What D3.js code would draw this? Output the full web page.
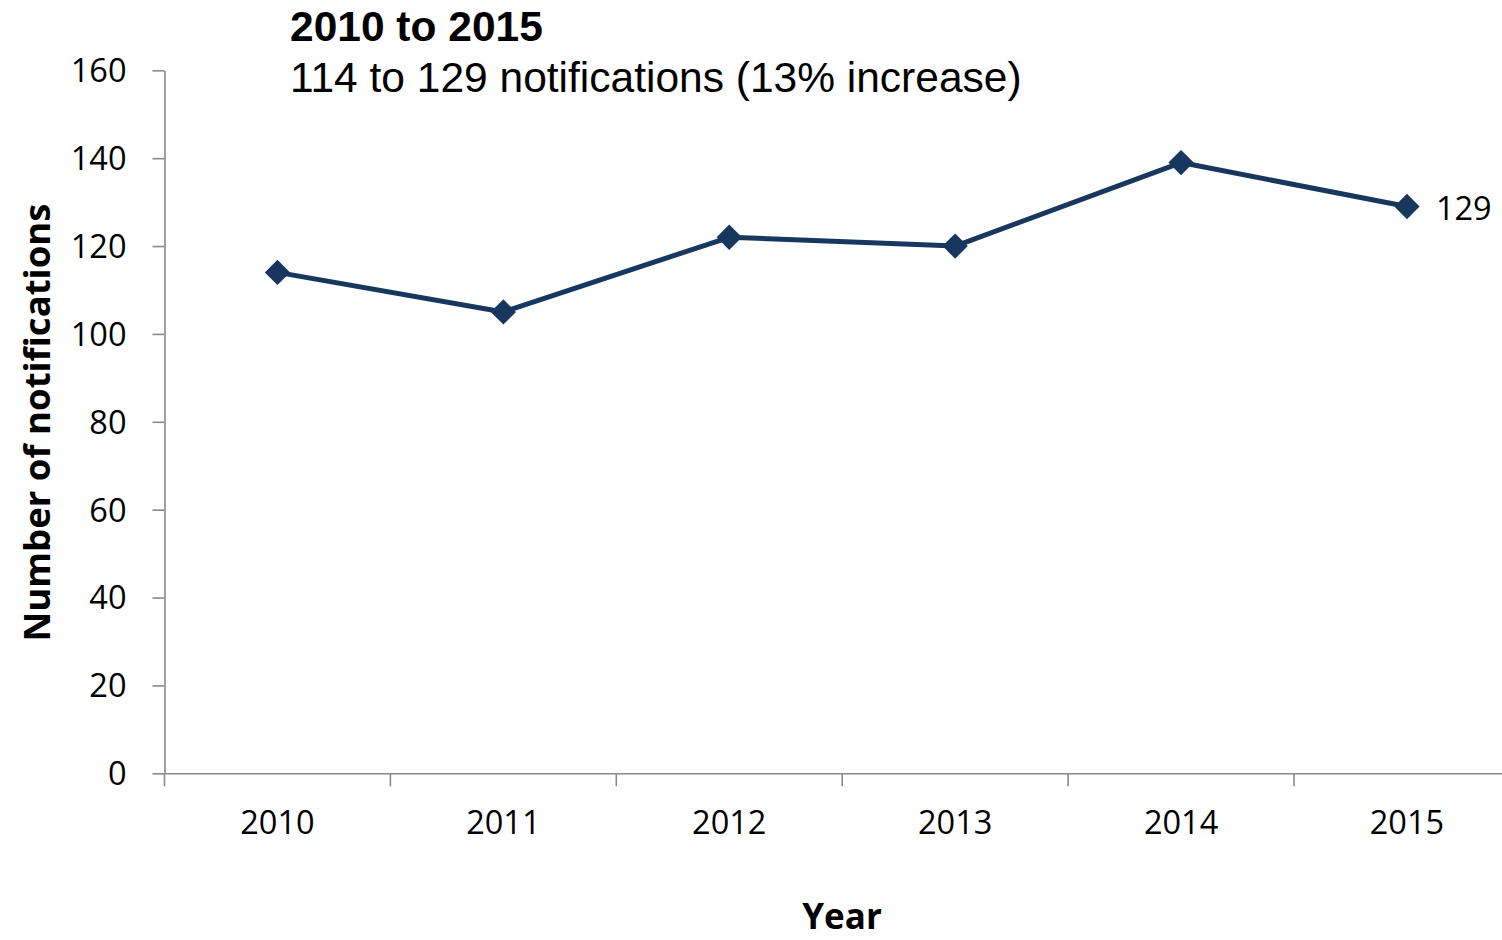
<!DOCTYPE html>
<html><head><meta charset="utf-8">
<script src="https://cdn.jsdelivr.net/npm/d3@7"></script>
<style>
html,body{margin:0;padding:0;background:#fff;overflow:hidden}
svg{display:block}
</style></head>
<body>
<svg id="chart" width="1502" height="940"></svg>
<script>
const years = ["2010","2011","2012","2013","2014","2015"];
const notifications = [114,105,122,120,139,129];
const yTicks = [0,20,40,60,80,100,120,140,160];
const titleText = "2010 to 2015";
const subtitleText = "114 to 129 notifications (13% increase)";
const yAxisTitle = "Number of notifications";
const xAxisTitle = "Year";
const endLabel = "129";

const W = 1502, H = 940;
const svg = d3.select("#chart");
const left = 164.5, step = 225.9, y0 = 773.3, y160 = 70.3;
const lineColor = "#17375E", axisColor = "#8a8a8a";
const tickFont = "'Open Sans', 'Noto Sans', sans-serif";
const tickSize = 32.5;

const x = d3.scaleBand().domain(years).range([left, left + step*years.length]).paddingInner(0).paddingOuter(0);
const y = d3.scaleLinear().domain([0,160]).range([y0, y160]);

// Y axis
const yAxis = svg.append("g").attr("transform", `translate(${left},0)`)
  .call(d3.axisLeft(y).tickValues(yTicks).tickSize(12).tickSizeOuter(0).tickPadding(26));
yAxis.select(".domain").attr("stroke", axisColor).attr("stroke-width", 1.6);
yAxis.selectAll(".tick line").attr("stroke", axisColor).attr("stroke-width", 1.6);
yAxis.selectAll(".tick text").attr("font-family", tickFont).attr("font-size", tickSize).attr("fill", "#000").attr("dy", "0.35em");

// X axis
const xAxis = svg.append("g").attr("transform", `translate(0,${y0})`)
  .call(d3.axisBottom(x).tickSize(0).tickSizeOuter(0).tickPadding(38));
xAxis.select(".domain").attr("stroke", axisColor).attr("stroke-width", 1.6);
xAxis.selectAll(".tick text").attr("font-family", tickFont).attr("font-size", tickSize).attr("fill", "#000");
// category boundary ticks
const bounds = years.map(d => x(d)).concat([x(years[years.length-1]) + x.bandwidth()]);
xAxis.selectAll(".bound").data(bounds).enter().append("line")
  .attr("x1", d => d).attr("x2", d => d).attr("y1", 0).attr("y2", 13)
  .attr("stroke", axisColor).attr("stroke-width", 1.6);

// Line
const cx = d => x(d) + x.bandwidth()/2;
const pts = years.map((d,i) => [cx(d), y(notifications[i])]);
svg.append("path").datum(pts)
  .attr("d", d3.line())
  .attr("fill", "none").attr("stroke", lineColor).attr("stroke-width", 5).attr("stroke-linejoin", "round");

// Markers (diamonds)
const sym = d3.symbol().type(d3.symbolSquare).size(320);
svg.selectAll(".mk").data(pts).enter().append("path")
  .attr("d", sym).attr("fill", lineColor)
  .attr("transform", d => `translate(${d[0]},${d[1]}) rotate(45)`);

// End label
svg.append("text").attr("x", pts[pts.length-1][0] + 29).attr("y", pts[pts.length-1][1] + 2)
  .attr("dy", "0.35em").attr("font-family", tickFont).attr("font-size", tickSize).attr("fill", "#000").text(endLabel);

// Titles
svg.append("text").attr("x", 290).attr("y", 41)
  .attr("font-family", "'Liberation Sans', Arial, sans-serif").attr("font-weight", "bold").attr("font-size", 42.5)
  .text(titleText);
svg.append("text").attr("x", 290).attr("y", 92)
  .attr("font-family", "'Liberation Sans', Arial, sans-serif").attr("font-size", 42.5)
  .text(subtitleText);

// Axis titles
svg.append("text").attr("transform", `translate(50,${(205+640)/2}) rotate(-90)`)
  .attr("text-anchor", "middle")
  .attr("font-family", tickFont).attr("font-weight", "bold").attr("font-size", 36.5)
  .text(yAxisTitle);
svg.append("text").attr("x", 842).attr("y", 929).attr("text-anchor", "middle")
  .attr("font-family", tickFont).attr("font-weight", "bold").attr("font-size", 35)
  .text(xAxisTitle);
</script>
</body></html>
